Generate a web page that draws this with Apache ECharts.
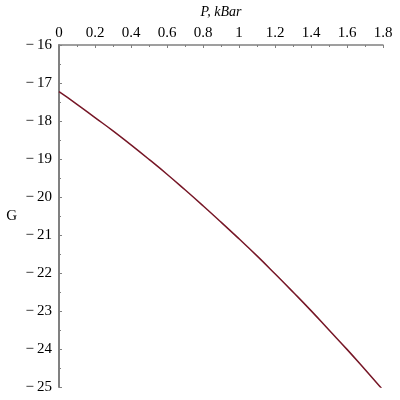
<!DOCTYPE html>
<html>
<head>
<meta charset="utf-8">
<script src="https://cdn.jsdelivr.net/npm/echarts@6/dist/echarts.min.js"></script>
<style>html,body{margin:0;padding:0;background:#fff}#c{width:400px;height:400px}</style>
</head>
<body>
<div id="c"></div>
<script>
const pressure = [0, 0.1, 0.2, 0.3, 0.4, 0.5, 0.6, 0.7, 0.8, 0.9, 1.0, 1.1, 1.2, 1.3, 1.4, 1.5, 1.6, 1.7, 1.8];
const gValues = [-17.23, -17.56, -17.91, -18.26, -18.63, -19.01, -19.40, -19.81, -20.23, -20.66, -21.10, -21.55, -22.02, -22.50, -22.99, -23.50, -24.01, -24.54, -25.08];
const xTitle = 'P, kBar';
const yTitle = 'G';

const chart = echarts.init(document.getElementById('c'));
const font = 'Liberation Serif';
chart.setOption({
  animation: false,
  backgroundColor: '#fff',
  grid: { left: 59, right: 17, top: 42, bottom: 13 },
  xAxis: {
    type: 'value', position: 'top', min: 0, max: 1.8, interval: 0.2,
    name: xTitle, nameLocation: 'middle', nameGap: 26,
    nameTextStyle: { fontFamily: font, fontSize: 14, fontStyle: 'italic', color: '#000' },
    axisLine: { onZero: false, lineStyle: { color: '#808080', width: 1.5 } },
    axisTick: { inside: true, length: 3, lineStyle: { color: '#808080' } },
    minorTick: { show: true, splitNumber: 2, length: 2, lineStyle: { color: '#808080' } },
    splitLine: { show: false },
    axisLabel: { fontFamily: font, fontSize: 15, color: '#000', margin: 4 }
  },
  yAxis: {
    type: 'value', min: -25, max: -16, interval: 1,
    name: yTitle, nameLocation: 'middle', nameGap: 42, nameRotate: 0,
    nameTextStyle: { fontFamily: font, fontSize: 15, color: '#000' },
    axisLine: { show: true, onZero: false, lineStyle: { color: '#808080', width: 2 } },
    axisTick: { show: true, inside: true, length: 3, lineStyle: { color: '#808080' } },
    minorTick: { show: true, splitNumber: 2, length: 2, lineStyle: { color: '#808080' } },
    splitLine: { show: false },
    axisLabel: { fontFamily: font, fontSize: 15, color: '#000', margin: 7,
      formatter: v => String(v).replace('-', '\u2212\u2009') }
  },
  series: [{
    type: 'line', data: pressure.map((p, i) => [p, gValues[i]]),
    smooth: true, showSymbol: false,
    lineStyle: { color: '#761626', width: 1.5 }
  }]
});
</script>
</body>
</html>
